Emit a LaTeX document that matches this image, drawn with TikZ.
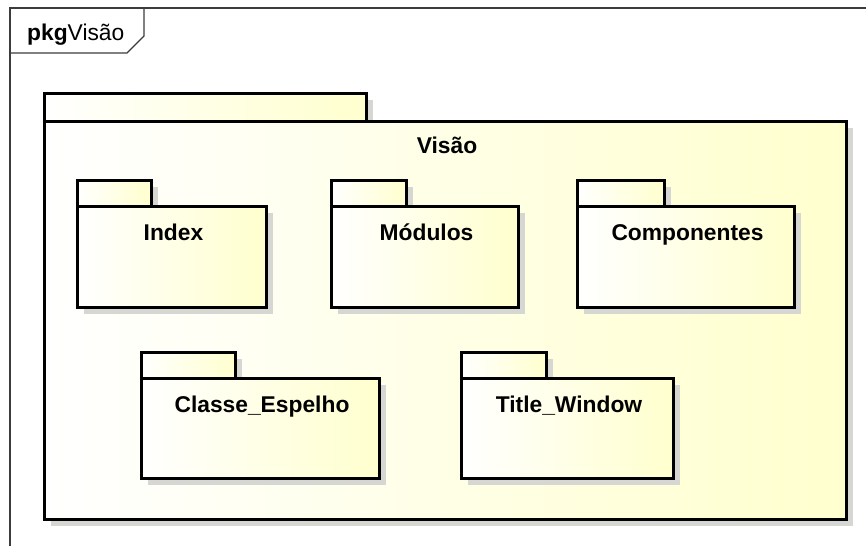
\documentclass[tikz,border=0pt]{standalone}
\usepackage{fontspec}
\setmainfont{Liberation Sans}
\definecolor{pkgyellow}{RGB}{255,255,206}
\definecolor{pkgshadow}{RGB}{214,214,210}
\definecolor{framegray}{RGB}{60,60,60}
\begin{document}
\begin{tikzpicture}[x=1pt, y=-1pt,
        pkgline/.style={line width=3pt, black, line join=miter},
        pkgfill/.style={left color=white, right color=pkgyellow},
        pkgshade/.style={fill=pkgshadow},
        pkglabel/.style={font=\fontsize{22.8}{26}\selectfont\bfseries, inner sep=0pt, anchor=base}]
    \useasboundingbox (0, 0) rectangle (866, 546);
    \fill[white] (0, 0) rectangle (866, 546);
    % frame
    \draw[framegray, line width=1.2pt] (10, 546) -- (10, 8) -- (866, 8);
    \draw[framegray, line width=1.2pt] (10, 53) -- (127, 53) -- (144, 36) -- (144, 8);
    \node[anchor=base west, inner sep=0pt, font=\fontsize{22.8}{26}\selectfont] (framelabel) at (27, 40)
        {\textbf{pkg}Visão};
    % outer package
    \fill[pkgshade] (51, 100) rectangle (373, 128);
    \fill[pkgshade] (51, 128) rectangle (853, 526);
    \shade[pkgfill] (44, 93) rectangle (366, 121);
    \shade[pkgfill] (44, 121) rectangle (846, 519);
    \draw[pkgline] (44, 121) -- (44, 93) -- (366, 93) -- (366, 121);
    \draw[pkgline] (44, 121) rectangle (846, 519);
    \node[pkglabel] (visao) at (447, 153) {Visão};
    % inner packages: left, top, tab width, width, height, name, label
    \foreach \x/\y/\tw/\w/\h/\name/\txt in {
            77/180/74/189/101/index/Index,
            331/180/75/187/101/modulos/Módulos,
            577/180/87/217/101/componentes/Componentes,
            141/352/94/238/100/espelho/Classe\_Espelho,
            461/352/85/212/100/titlewindow/Title\_Window} {
        \fill[pkgshade] (\x+7, \y+7) rectangle (\x+\tw+7, \y+33);
        \fill[pkgshade] (\x+7, \y+33) rectangle (\x+\w+7, \y+26+\h+7);
        \shade[pkgfill] (\x, \y) rectangle (\x+\tw, \y+26);
        \shade[pkgfill] (\x, \y+26) rectangle (\x+\w, \y+26+\h);
        \draw[pkgline] (\x, \y+26) -- (\x, \y) -- (\x+\tw, \y) -- (\x+\tw, \y+26);
        \draw[pkgline] (\x, \y+26) rectangle (\x+\w, \y+26+\h);
        \node[pkglabel] (\name) at (\x+\w/2+2, \y+60) {\txt};
    }
\end{tikzpicture}
\end{document}
